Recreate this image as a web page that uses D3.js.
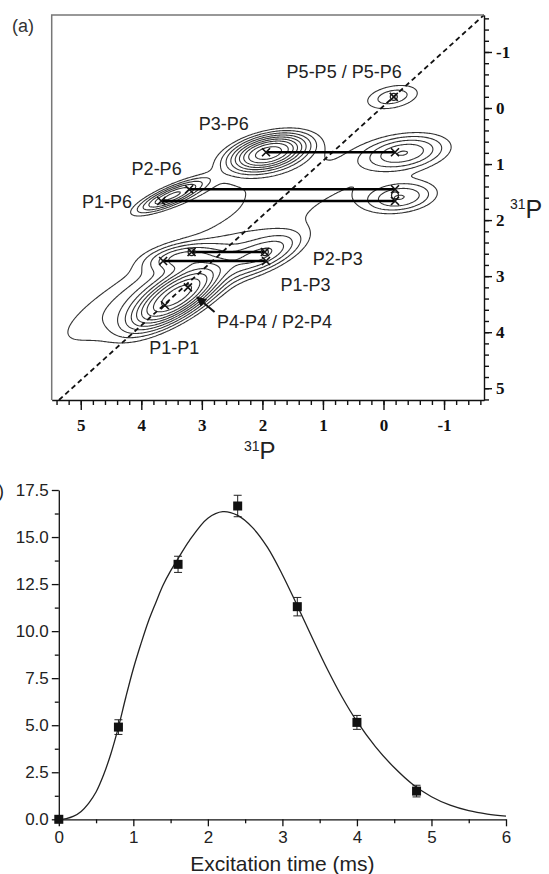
<!DOCTYPE html>
<html>
<head>
<meta charset="utf-8">
<script src="https://cdn.jsdelivr.net/npm/d3@7"></script>
<style>
  body { margin: 0; background: #fff; }
  svg { display: block; }
  .serif { font-family: "Liberation Serif", "Times New Roman", serif; font-weight: bold; }
  .sans { font-family: "Liberation Sans", Arial, sans-serif; }
</style>
</head>
<body>
<svg id="chart" width="549" height="874"></svg>
<script>
// ---------- panel (a): 2D 31P correlation map ----------
const ppmTicks = [5, 4, 3, 2, 1, 0, -1];

// peaks of the spectrum (ppm F2, ppm F1, relative height, widths, tilt in deg)
const spectrumPeaks = [
  { x: -0.15, y: -0.2, a: 0.13, sa: 0.33, sb: 0.15, rot: 12 },
  { x: 1.9, y: 0.8, a: 0.8, sa: 0.37, sb: 0.17, rot: 15 },
  { x: -0.33, y: 0.8, a: 0.25, sa: 0.42, sb: 0.18, rot: 10 },
  { x: -0.27, y: 1.6, a: 0.2, sa: 0.38, sb: 0.17, rot: 8 },
  { x: 3.5, y: 1.57, a: 0.36, sa: 0.36, sb: 0.09, rot: 25 },
  { x: 1.5, y: 1.25, a: 0.06, sa: 1.75, sb: 0.45, rot: 10 },
  { x: 3.42, y: 3.36, a: 0.9, sa: 0.5, sb: 0.19, rot: 35 },
  { x: 3.35, y: 2.66, a: 0.22, sa: 0.37, sb: 0.14, rot: 10 },
  { x: 2.0, y: 2.62, a: 0.25, sa: 0.44, sb: 0.17, rot: 25 },
  { x: 3.45, y: 3.05, a: 0.14, sa: 1.55, sb: 0.35, rot: 30 }
];
const contourLevels = [0.06, 0.1, 0.15, 0.21, 0.28, 0.36, 0.45, 0.56, 0.7, 0.86];

// horizontal correlation bars: [F1, F2 start, F2 end]
const correlationBars = [
  [0.79, 1.94, -0.19],
  [1.45, 3.21, -0.19],
  [1.66, 3.67, -0.19],
  [2.57, 3.17, 1.96],
  [2.73, 3.64, 1.94]
];
// cross markers [F2, F1]
const crossMarks = [
  [-0.17, -0.2], [1.94, 0.79], [-0.19, 0.79], [3.21, 1.45], [-0.19, 1.45],
  [3.67, 1.66], [-0.19, 1.66], [3.17, 2.57], [1.96, 2.57], [3.64, 2.73],
  [1.94, 2.73], [3.23, 3.2], [3.61, 3.52]
];
const circleMarks = [[-0.17, -0.2], [3.17, 2.57], [1.96, 2.57], [-0.19, 1.56]];
const diagonalEnds = [[5.36, 5.21], [-1.66, -1.66]];
const arrowEnds = [[2.79, 3.64], [3.08, 3.375]];

const peakLabels = [
  { text: "P5-P5 / P5-P6", x: 1.60, y: -0.54 },
  { text: "P3-P6", x: 3.05, y: 0.40 },
  { text: "P2-P6", x: 4.16, y: 1.20 },
  { text: "P1-P6", x: 4.98, y: 1.79 },
  { text: "P2-P3", x: 1.17, y: 2.80 },
  { text: "P1-P3", x: 1.70, y: 3.27 },
  { text: "P4-P4 / P2-P4", x: 2.75, y: 3.93 },
  { text: "P1-P1", x: 3.87, y: 4.39 }
];

// ---------- panel (b): build-up curve ----------
const excitationTimes = [0, 0.8, 1.6, 2.4, 3.2, 4.0, 4.8];
const intensities = [0, 4.9, 13.55, 16.65, 11.3, 5.15, 1.5];
const intensityErrors = [0, 0.39, 0.43, 0.57, 0.49, 0.37, 0.31];

const fitTimes = [0, 0.1, 0.2, 0.3, 0.4, 0.5, 0.6, 0.7, 0.8, 0.9, 1.0, 1.1, 1.2, 1.3, 1.4, 1.5, 1.6, 1.75,
  2.0, 2.2, 2.4, 2.6, 2.8, 3.0, 3.2, 3.4, 3.6, 3.8, 4.0, 4.25, 4.5, 4.75, 5.0, 5.25, 5.5, 5.75, 6.0];
const fitValues = [0, 0.04, 0.17, 0.42, 0.85, 1.45, 2.35, 3.5, 4.9, 6.5, 8.0, 9.3, 10.5, 11.5, 12.45, 13.2, 13.85, 14.8,
  16.0, 16.35, 16.15, 15.5, 14.45, 13.0, 11.35, 9.65, 8.0, 6.5, 5.2, 3.85, 2.75, 1.85, 1.2, 0.75, 0.46, 0.28, 0.17];
const timeTicks = [0, 1, 2, 3, 4, 5, 6];
const intensityTicks = [0, 2.5, 5, 7.5, 10, 12.5, 15, 17.5];

const svg = d3.select("#chart");

// ================= panel (a) =================
const xA = d3.scaleLinear().domain([5.48, -1.66]).range([51.7, 484]);
const yA = d3.scaleLinear().domain([-1.66, 5.21]).range([15, 400]);

const gA = svg.append("g");
gA.append("defs").append("clipPath").attr("id", "frameClip")
  .append("rect").attr("x", xA.range()[0]).attr("y", yA.range()[0])
  .attr("width", xA.range()[1] - xA.range()[0]).attr("height", yA.range()[1] - yA.range()[0]);

// grid of the spectrum, then contours
const step = 0.02;
const gx0 = xA.domain()[0], gy0 = yA.domain()[0];
const nx = Math.round((xA.domain()[0] - xA.domain()[1]) / step) + 1;
const ny = Math.round((yA.domain()[1] - yA.domain()[0]) / step) + 1;
const values = new Float64Array(nx * ny);
for (let j = 0; j < ny; j++) {
  const y = gy0 + j * step;
  for (let i = 0; i < nx; i++) {
    const x = gx0 - i * step;
    let v = 0;
    spectrumPeaks.forEach(p => {
      const t = p.rot * Math.PI / 180;
      const u = p.x - x, w = p.y - y;
      const a = u * Math.cos(t) + w * Math.sin(t);
      const b = -u * Math.sin(t) + w * Math.cos(t);
      v += p.a * Math.exp(-(a * a / (2 * p.sa * p.sa) + b * b / (2 * p.sb * p.sb)));
    });
    values[j * nx + i] = v;
  }
}
const contours = d3.contours().size([nx, ny]).thresholds(contourLevels)(values);
const gridProj = d3.geoTransform({
  point(x, y) {
    this.stream.point(xA(gx0 - (x - 0.5) * step), yA(gy0 + (y - 0.5) * step));
  }
});
gA.append("g").attr("clip-path", "url(#frameClip)")
  .selectAll("path").data(contours).enter().append("path")
  .attr("d", d3.geoPath(gridProj))
  .attr("fill", "none").attr("stroke", "#333").attr("stroke-width", 1.1);

// diagonal
gA.append("line")
  .attr("x1", xA(diagonalEnds[0][0])).attr("y1", yA(diagonalEnds[0][1]))
  .attr("x2", xA(diagonalEnds[1][0])).attr("y2", yA(diagonalEnds[1][1]))
  .attr("stroke", "#111").attr("stroke-width", 1.8).attr("stroke-dasharray", "5,3.5");

// correlation bars
gA.append("g").selectAll("line").data(correlationBars).enter().append("line")
  .attr("x1", d => xA(d[1])).attr("x2", d => xA(d[2]))
  .attr("y1", d => yA(d[0])).attr("y2", d => yA(d[0]))
  .attr("stroke", "#000").attr("stroke-width", 2.6);

gA.append("g").selectAll("circle").data(circleMarks).enter().append("circle")
  .attr("cx", d => xA(d[0])).attr("cy", d => yA(d[1])).attr("r", 3.5)
  .attr("fill", "none").attr("stroke", "#222").attr("stroke-width", 1.3);

gA.append("g").selectAll("path").data(crossMarks).enter().append("path")
  .attr("d", d => {
    const cx = xA(d[0]), cy = yA(d[1]), s = 4;
    return `M${cx - s},${cy - s}L${cx + s},${cy + s}M${cx - s},${cy + s}L${cx + s},${cy - s}`;
  })
  .attr("stroke", "#111").attr("stroke-width", 1.6);

// arrow
gA.append("defs").append("marker")
  .attr("id", "arrowHead").attr("viewBox", "0 -5 10 10").attr("refX", 9).attr("refY", 0)
  .attr("markerWidth", 5).attr("markerHeight", 5).attr("orient", "auto")
  .append("path").attr("d", "M0,-5L10,0L0,5Z").attr("fill", "#111");
gA.append("line")
  .attr("x1", xA(arrowEnds[0][0])).attr("y1", yA(arrowEnds[0][1]))
  .attr("x2", xA(arrowEnds[1][0])).attr("y2", yA(arrowEnds[1][1]))
  .attr("stroke", "#111").attr("stroke-width", 2).attr("marker-end", "url(#arrowHead)");

// labels
gA.append("g").selectAll("text").data(peakLabels).enter().append("text")
  .attr("class", "sans").attr("x", d => xA(d.x)).attr("y", d => yA(d.y))
  .attr("font-size", 18).attr("fill", "#222").text(d => d.text);

// frame
gA.append("path")
  .attr("d", `M${xA.range()[0]},${yA.range()[1]}V${yA.range()[0]}H${xA.range()[1]}`)
  .attr("fill", "none").attr("stroke", "#777").attr("stroke-width", 1.5);

const ppmFormat = d => d < 0 ? "-" + Math.abs(d) : String(d);
const minorPpm = d3.range(-16, 55, 2).map(v => v / 10);

const bottomAxis = gA.append("g").attr("transform", `translate(0,${yA.range()[1]})`);
bottomAxis.append("g")
  .call(d3.axisBottom(xA).tickValues(minorPpm.filter(v => v <= 5.4)).tickSize(5).tickFormat(""))
  .call(g => g.select(".domain").remove());
bottomAxis.append("g")
  .call(d3.axisBottom(xA).tickValues(ppmTicks).tickSize(10).tickPadding(9).tickSizeOuter(0).tickFormat(ppmFormat))
  .attr("class", "serif").attr("font-size", 17);

const rightAxis = gA.append("g").attr("transform", `translate(${xA.range()[1]},0)`);
rightAxis.append("g")
  .call(d3.axisRight(yA).tickValues(minorPpm.filter(v => v <= 5.2)).tickSize(5).tickFormat(""))
  .call(g => g.select(".domain").remove());
rightAxis.append("g")
  .call(d3.axisRight(yA).tickValues(ppmTicks).tickSize(8).tickPadding(4).tickSizeOuter(0).tickFormat(ppmFormat))
  .attr("class", "serif").attr("font-size", 17);

gA.selectAll(".tick line, .domain").attr("stroke", "#111").attr("stroke-width", 1.4);
gA.selectAll(".tick text").attr("fill", "#111");

// axis titles
const xTitle = gA.append("text").attr("class", "sans").attr("x", 244).attr("y", 459).attr("fill", "#222");
xTitle.append("tspan").attr("font-size", 14).attr("dy", -8).text("31");
xTitle.append("tspan").attr("font-size", 24).attr("dy", 8).text("P");
const yTitle = gA.append("text").attr("class", "sans").attr("x", 510).attr("y", 218).attr("fill", "#222");
yTitle.append("tspan").attr("font-size", 14).attr("dy", -9).text("31");
yTitle.append("tspan").attr("font-size", 25).attr("dy", 9).text("P");

gA.append("text").attr("class", "sans").attr("x", 12).attr("y", 32)
  .attr("font-size", 18).attr("fill", "#333").text("(a)");

// ================= panel (b) =================
const xB = d3.scaleLinear().domain([0, 6]).range([58.8, 506]);
const yB = d3.scaleLinear().domain([0, 17.5]).range([819.3, 490]);
const gB = svg.append("g").attr("class", "sans");

gB.append("text").attr("x", 4).attr("y", 497).attr("text-anchor", "end")
  .attr("font-size", 18).attr("fill", "#222").text("(b)");

const xAxisB = gB.append("g").attr("transform", `translate(0,${yB.range()[0]})`);
xAxisB.append("g")
  .call(d3.axisBottom(xB).tickValues(d3.range(0.5, 6, 1)).tickSize(4).tickFormat(""))
  .call(g => g.select(".domain").remove());
xAxisB.append("g")
  .call(d3.axisBottom(xB).tickValues(timeTicks).tickSize(7).tickPadding(5).tickSizeOuter(0)
    .tickFormat(d3.format("d")))
  .attr("font-size", 17);

const yAxisB = gB.append("g").attr("transform", `translate(${xB.range()[0]},0)`);
yAxisB.append("g")
  .call(d3.axisLeft(yB).tickValues(d3.range(1.25, 17.5, 2.5)).tickSize(4).tickFormat(""))
  .call(g => g.select(".domain").remove());
yAxisB.append("g")
  .call(d3.axisLeft(yB).tickValues(intensityTicks).tickSize(7).tickPadding(3).tickSizeOuter(0)
    .tickFormat(d3.format(".1f")))
  .attr("font-size", 17);

gB.selectAll(".tick line, .domain").attr("stroke", "#111").attr("stroke-width", 1.3);
gB.selectAll(".tick text").attr("fill", "#222").attr("font-family", "Liberation Sans, Arial, sans-serif");

gB.append("text").attr("x", (xB.range()[0] + xB.range()[1]) / 2).attr("y", 871)
  .attr("text-anchor", "middle").attr("font-size", 21).attr("fill", "#222")
  .text("Excitation time (ms)");

const fitLine = d3.line().x((d, i) => xB(fitTimes[i])).y(d => yB(d)).curve(d3.curveCatmullRom);
gB.append("path").datum(fitValues).attr("d", fitLine)
  .attr("fill", "none").attr("stroke", "#222").attr("stroke-width", 1.3);

const pts = excitationTimes.map((t, i) => ({ t, v: intensities[i], e: intensityErrors[i] }));
const errG = gB.append("g").selectAll("g").data(pts.filter(d => d.e > 0)).enter().append("g")
  .attr("stroke", "#222").attr("stroke-width", 1);
errG.append("line").attr("x1", d => xB(d.t)).attr("x2", d => xB(d.t))
  .attr("y1", d => yB(d.v - d.e)).attr("y2", d => yB(d.v + d.e));
errG.append("line").attr("x1", d => xB(d.t) - 4).attr("x2", d => xB(d.t) + 4)
  .attr("y1", d => yB(d.v + d.e)).attr("y2", d => yB(d.v + d.e));
errG.append("line").attr("x1", d => xB(d.t) - 4).attr("x2", d => xB(d.t) + 4)
  .attr("y1", d => yB(d.v - d.e)).attr("y2", d => yB(d.v - d.e));

gB.append("g").selectAll("rect").data(pts).enter().append("rect")
  .attr("x", d => xB(d.t) - 4.5).attr("y", d => yB(d.v) - 4.5)
  .attr("width", 9).attr("height", 9).attr("fill", "#111");
</script>
</body>
</html>
